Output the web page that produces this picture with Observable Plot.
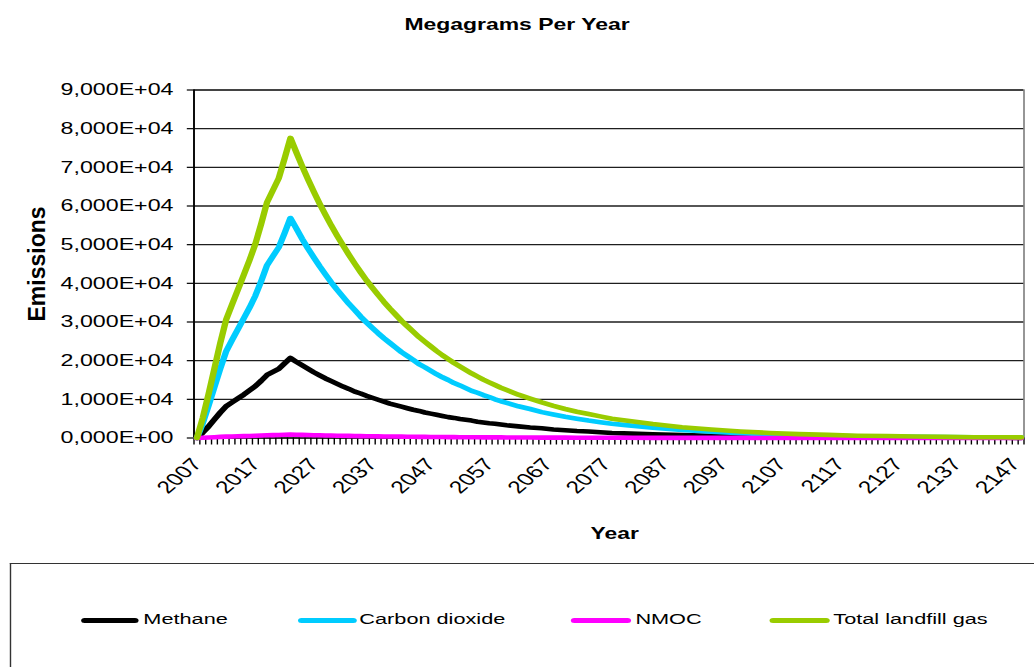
<!DOCTYPE html>
<html>
<head>
<meta charset="utf-8">
<script src="https://cdn.jsdelivr.net/npm/d3@7"></script>
<script src="https://cdn.jsdelivr.net/npm/@observablehq/plot@0.6"></script>
<style>
  html, body { margin: 0; padding: 0; background: #fff; overflow: hidden; }
  #wrap { position: relative; width: 739px; height: 667px; transform-origin: 0 0; font-family: "Liberation Sans", Arial, sans-serif; color: #000; }
  #title { position: absolute; left: 0; top: 15px; width: 739px; text-align: center; font-weight: bold; font-size: 16.4px; line-height: 19px; }
  #chart { position: absolute; left: 0; top: 50px; }
  #legend { position: absolute; top: 563px; height: 140px; border: 1px solid #333; border-right: none; border-bottom: none; box-sizing: border-box; }
  .sw { position: absolute; height: 5px; top: 53.5px; border-radius: 2.5px; }
  .lt { position: absolute; top: 46px; font-size: 15.5px; line-height: 18px; white-space: nowrap; }
</style>
</head>
<body>
<div id="wrap">
  <div id="title">Megagrams Per Year</div>
  <div id="chart"></div>
  <div id="legend"></div>
</div>
<script>
// ---------------- data ----------------
const years = [
  2007,2008,2009,2010,2011,2012,2013,2014,2015,2016,2017,2018,2019,2020,2021,2022,2023,
  2024,2025,2026,2027,2028,2029,2030,2031,2032,2033,2034,2035,2036,2037,2038,2039,2040,
  2041,2042,2043,2044,2045,2046,2047,2048,2049,2050,2051,2052,2053,2054,2055,2056,2057,
  2058,2059,2060,
  2062,2064,2066,2068,2070,2072,2074,2076,2078,2080,
  2085,2090,2095,2100,2105,2110,2115,2120,2125,2130,2135,2140,2145,
  2148
];
const methane = [
  0,1400,3000,4800,6600,8200,9200,10200,11200,12300,13400,14800,16300,17100,17900,19300,20700,
  19700,18800,17900,17000,16200,15400,14700,14000,13300,12700,12000,11500,10900,10400,9900,9400,8900,
  8500,8100,7700,7300,7000,6600,6300,6000,5700,5400,5200,4900,4700,4500,4200,4000,3800,
  3700,3500,3300,
  3000,2700,2500,2200,2000,1800,1700,1500,1300,1200,
  960,750,590,450,350,270,210,160,130,110,80,50,50,
  40
];
const carbonDioxide = [
  0,3800,8400,13200,18000,22400,25300,28100,30900,33700,36800,40600,44700,47000,49300,53000,56900,
  54200,51500,49000,46700,44400,42300,40200,38300,36500,34700,33100,31400,29900,28500,27100,25800,24600,
  23400,22200,21200,20200,19100,18300,17400,16500,15700,15000,14200,13600,12900,12200,11700,11100,10600,
  10000,9500,9100,
  8200,7500,6700,6100,5500,5000,4500,4100,3700,3400,
  2640,2050,1610,1250,950,730,590,440,370,290,220,150,150,
  110
];
const nmoc = [
  0,60,130,210,280,350,400,440,480,530,580,640,700,740,770,830,890,
  850,810,770,730,700,660,630,600,570,550,520,490,470,450,430,400,390,
  370,350,330,320,300,290,270,260,250,230,220,210,200,190,180,170,170,
  160,150,140,
  130,120,110,100,90,80,70,60,60,50,
  40,30,25,20,15,12,9,7,6,5,3,2,2,
  2
];
const totalGas = [
  0,5200,11400,18000,24600,30600,34500,38300,42100,46000,50200,55400,61000,64100,67200,72300,77600,
  73900,70300,66900,63700,60600,57700,54900,52300,49800,47400,45100,42900,40800,38900,37000,35200,33500,
  31900,30300,28900,27500,26100,24900,23700,22500,21400,20400,19400,18500,17600,16700,15900,15100,14400,
  13700,13000,12400,
  11200,10200,9200,8300,7500,6800,6200,5600,5000,4600,
  3600,2800,2200,1700,1300,1000,800,600,500,400,300,200,200,
  150
];
const seriesNames = ["Methane", "Carbon dioxide", "NMOC", "Total landfill gas"];
const xTickYears = [2007,2017,2027,2037,2047,2057,2067,2077,2087,2097,2107,2117,2127,2137,2147];
const yTicks = [0,10000,20000,30000,40000,50000,60000,70000,80000,90000];
const yTickLabels = ["0,000E+00","1,000E+04","2,000E+04","3,000E+04","4,000E+04","5,000E+04","6,000E+04","7,000E+04","8,000E+04","9,000E+04"];
const firstYear = 2007, lastYear = 2148;

// ---------------- styling ----------------
const seriesColors = ["#000000", "#00CCFF", "#FF00FF", "#99CC00"];
const W = 739;
const S = 1034 / W;           // the reference is stretched horizontally
const fx = px => px / S;      // page px -> base px
document.getElementById("wrap").style.transform = `scaleX(${S})`;

const seriesData = [methane, carbonDioxide, nmoc, totalGas];
const rows = seriesData.map(vals => years.map((year, i) => ({year, value: vals[i]})));
const boundaries = d3.range(firstYear - 0.5, lastYear + 0.51, 1);

const lineOpts = {x: "year", y: "value", strokeWidth: 4.6, strokeLinejoin: "round", strokeLinecap: "round"};

const chart = Plot.plot({
  width: W,
  height: 510,
  marginLeft: fx(193.3),
  marginRight: W - fx(1023.3),
  marginTop: 39.5,
  marginBottom: 122.5,
  style: {fontFamily: '"Liberation Sans", Arial, sans-serif', fontSize: "16px", color: "#000", background: "transparent", overflow: "visible"},
  x: {domain: [firstYear - 0.5, lastYear + 0.5]},
  y: {domain: [0, 90000]},
  marks: [
    Plot.frame({stroke: "#8c8c8c", strokeWidth: 1.3}),
    Plot.ruleY(yTicks.slice(1), {stroke: "#1e1e1e", strokeWidth: 1.3}),
    Plot.axisY({ticks: yTicks, tickFormat: d => yTickLabels[yTicks.indexOf(d)], tickSize: fx(6.5), tickPadding: fx(14), fontSize: 16.6, label: null, strokeWidth: 1.2}),
    Plot.axisX({ticks: boundaries, tickSize: 7, tickFormat: () => "", label: null, strokeWidth: 1}),
    Plot.axisX({ticks: xTickYears, tickSize: 0, tickPadding: 23, tickRotate: -50, fontSize: 17.5, label: null, tickFormat: d => String(d)}),
    Plot.ruleX([firstYear - 0.5], {stroke: "#000", strokeWidth: 1.3}),
    Plot.ruleY([0], {stroke: "#000", strokeWidth: 1.3}),
    ...rows.map((r, i) => Plot.line(r, {...lineOpts, stroke: seriesColors[i]})),
    Plot.text(["Emissions"], {frameAnchor: "left", dx: fx(37) - fx(193.3), textAnchor: "middle", lineAnchor: "middle", rotate: -90, fontSize: 23, fontWeight: "bold"}),
    Plot.text(["Year"], {frameAnchor: "bottom", dx: fx(614) - (fx(193.3) + fx(1023.3)) / 2, dy: 95.5, textAnchor: "middle", lineAnchor: "middle", fontSize: 16.3, fontWeight: "bold"})
  ]
});
document.getElementById("chart").appendChild(chart);

// undo the horizontal stretch for the rotated "Emissions" label
chart.querySelectorAll("text").forEach(t => {
  if (t.textContent === "Emissions") {
    const tr = t.getAttribute("transform") || "";
    t.setAttribute("transform", tr + ` scale(1,${1 / S})`);
  }
});

// ---------------- legend ----------------
const legend = document.getElementById("legend");
legend.style.left = fx(10) + "px";
legend.style.width = (W - fx(10) + 10) + "px";
const swatchX = [[80, 137], [296, 355], [570, 630], [768, 828]];
const textX = [142, 358, 634, 832];
seriesNames.forEach((name, i) => {
  const sw = document.createElement("div");
  sw.className = "sw";
  sw.style.left = (fx(swatchX[i][0]) - fx(10)) + "px";
  sw.style.width = (fx(swatchX[i][1]) - fx(swatchX[i][0])) + "px";
  sw.style.background = seriesColors[i];
  legend.appendChild(sw);
  const tx = document.createElement("div");
  tx.className = "lt";
  tx.style.left = (fx(textX[i]) - fx(10)) + "px";
  tx.textContent = name;
  legend.appendChild(tx);
});
</script>
</body>
</html>
